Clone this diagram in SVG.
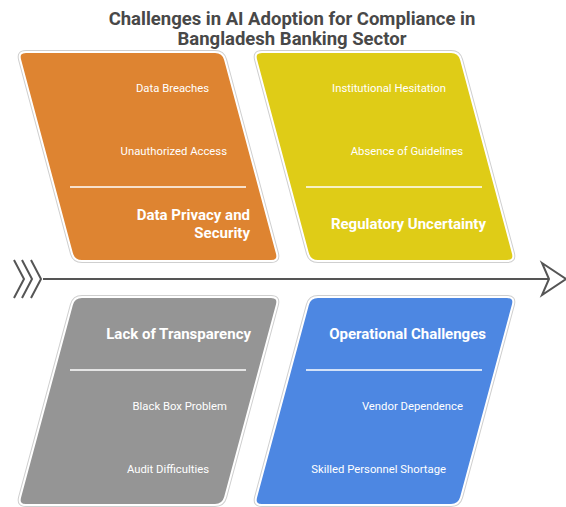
<svg xmlns="http://www.w3.org/2000/svg" width="566" height="507" viewBox="0 0 566 507">
  <style>
    .title { font-family: Roboto, "Liberation Sans", sans-serif; font-weight: bold; font-size: 18.5px; fill: #484848; text-anchor: middle; }
    .edge { fill: none; stroke: #cfcfcf; stroke-width: 4; }
    .card { stroke: #ffffff; stroke-width: 2; }
    .orange { fill: #de8431; }
    .yellow { fill: #dfcc17; }
    .gray { fill: #959595; }
    .blue { fill: #4d87e2; }
    .item { font-family: Roboto, "Liberation Sans", sans-serif; font-size: 11.3px; fill: #ffffff; text-anchor: end; }
    .head { font-family: Roboto, "Liberation Sans", sans-serif; font-weight: bold; font-size: 15px; fill: #ffffff; text-anchor: end; }
    .rule { stroke: #ffffff; stroke-width: 1.5; }
    .spine { fill: none; stroke: #555555; stroke-width: 2; }
  </style>
  <defs>
    <!-- upper cards lean right, lower cards lean left -->
    <path id="upper" d="M 26 52 H 215 Q 223 52 225.1 59.7 L 276.9 253.3 Q 279 261 271 261 H 82 Q 74 261 71.9 253.3 L 20.1 59.7 Q 18 52 26 52 Z"/>
    <path id="lower" d="M 82 297 H 271 Q 279 297 276.9 304.7 L 225.1 497.3 Q 223 505 215 505 H 26 Q 18 505 20.1 497.3 L 71.9 304.7 Q 74 297 82 297 Z"/>
  </defs>

  <text class="title" x="292" y="24.5">Challenges in AI Adoption for Compliance in</text>
  <text class="title" x="292" y="45">Bangladesh Banking Sector</text>

  <g id="connectors">
    <line class="spine" x1="43" y1="279" x2="549" y2="279"/>
    <polyline class="spine" points="14,260 24,279 14,298"/>
    <polyline class="spine" points="22,260 32,279 22,298"/>
    <polyline class="spine" points="31,260 41,279 31,298"/>
    <polygon points="542,263 566,279 542,295 549,279" fill="#ffffff" stroke="#555555" stroke-width="2" stroke-linejoin="miter"/>
  </g>

  <g id="data-privacy">
    <use href="#upper" class="edge"/>
    <use href="#upper" class="card orange"/>
    <text class="item" x="209" y="91.5">Data Breaches</text>
    <text class="item" x="227" y="155">Unauthorized Access</text>
    <line class="rule" x1="70" y1="187" x2="246" y2="187"/>
    <text class="head" x="250" y="220">Data Privacy and</text>
    <text class="head" x="250" y="238">Security</text>
  </g>

  <g id="regulatory" transform="translate(236,0)">
    <use href="#upper" class="edge"/>
    <use href="#upper" class="card yellow"/>
    <text class="item" x="210" y="91.5">Institutional Hesitation</text>
    <text class="item" x="227" y="155">Absence of Guidelines</text>
    <line class="rule" x1="70" y1="187" x2="246" y2="187"/>
    <text class="head" x="250" y="229">Regulatory Uncertainty</text>
  </g>

  <g id="transparency">
    <use href="#lower" class="edge"/>
    <use href="#lower" class="card gray"/>
    <text class="head" x="251" y="339">Lack of Transparency</text>
    <line class="rule" x1="70" y1="370" x2="246" y2="370"/>
    <text class="item" x="227" y="410">Black Box Problem</text>
    <text class="item" x="209" y="473">Audit Difficulties</text>
  </g>

  <g id="operational" transform="translate(236,0)">
    <use href="#lower" class="edge"/>
    <use href="#lower" class="card blue"/>
    <text class="head" x="250" y="339">Operational Challenges</text>
    <line class="rule" x1="70" y1="370" x2="246" y2="370"/>
    <text class="item" x="227" y="410">Vendor Dependence</text>
    <text class="item" x="210" y="473">Skilled Personnel Shortage</text>
  </g>
</svg>
